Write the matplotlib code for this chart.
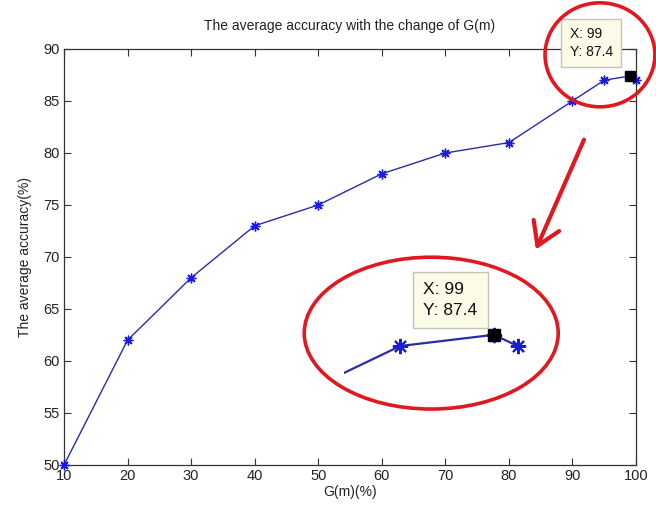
import matplotlib
matplotlib.use("Agg")
import matplotlib.pyplot as plt
from matplotlib.patches import Ellipse

# 데이터
g_m = [10, 20, 30, 40, 50, 60, 70, 80, 90, 95, 99, 100]
accuracy = [50, 62, 68, 73, 75, 78, 80, 81, 85, 87, 87.4, 87]
tip_x = 99
tip_y = 87.4
x_ticks = [10, 20, 30, 40, 50, 60, 70, 80, 90, 100]
y_ticks = [50, 55, 60, 65, 70, 75, 80, 85, 90]

plt.rcParams["font.family"] = ["Liberation Sans", "DejaVu Sans"]

line_color = "#2b2ba6"
star_color = "#1a1ae0"
red = "#e01820"
tip_face = "#fbfbe8"
tip_edge = "#c4c4b0"
# MATLAB 스타일 별표(*) 마커
asterisk = (8, 2, 0)

fig = plt.figure(figsize=(6.56, 5.13), dpi=100)
ax = fig.add_axes([64 / 656, 1 - 465 / 513, 572 / 656, 416 / 513])

ax.plot(g_m, accuracy, "-", color=line_color, lw=1.0, zorder=3)
ax.plot(g_m, accuracy, linestyle="none", marker=asterisk, markersize=7, mew=1.0,
        markeredgecolor=star_color, clip_on=False, zorder=3)
ax.plot([tip_x], [tip_y], "s", color="black", markersize=7, zorder=4, clip_on=False)

ax.set_xlim(10, 100)
ax.set_ylim(50, 90)
ax.set_xticks(x_ticks)
ax.set_yticks(y_ticks)
ax.tick_params(direction="in", top=True, right=True, length=5, labelsize=10.5,
               color="#333333", labelcolor="#222222")
ax.tick_params(axis="x", pad=3)
ax.tick_params(axis="y", pad=3)
for s in ax.spines.values():
    s.set_color("#333333")
    s.set_linewidth(0.9)

ax.set_title("The average accuracy with the change of G(m)", fontsize=10, color="#222222", pad=14)
ax.set_xlabel("G(m)(%)", fontsize=10, color="#222222", labelpad=1)
ax.set_ylabel("The average accuracy(%)", fontsize=10, color="#222222", labelpad=8)

# 데이터 팁 (메인)
ax.annotate("X: 99\nY: 87.4", xy=(tip_x, tip_y), xytext=(-17, 17), textcoords="offset pixels",
            ha="right", va="bottom", multialignment="left", fontsize=10, color="#111111",
            linespacing=1.35,
            bbox=dict(boxstyle="square,pad=0.6", fc=tip_face, ec=tip_edge, lw=1.0),
            annotation_clip=False, zorder=5)

# 빨간 타원 (메인)
ax.add_patch(Ellipse((0.937, 0.986), 0.192, 0.25, transform=ax.transAxes, fill=False,
                     ec=red, lw=2.6, clip_on=False, zorder=6))
# 빨간 화살표
ax.annotate("", xy=(0.823, 0.512), xytext=(0.911, 0.788), xycoords="axes fraction",
            textcoords="axes fraction",
            arrowprops=dict(arrowstyle="->,head_length=0.8,head_width=0.5", color=red,
                            lw=3, mutation_scale=20))
# 빨간 타원 (확대)
ax.add_patch(Ellipse((0.642, 0.317), 0.444, 0.365, transform=ax.transAxes, fill=False,
                     ec=red, lw=2.6, zorder=6))

# 확대된 부분
ins = fig.add_axes([344 / 656, 1 - 392 / 513, 197 / 656, 92 / 513])
ins.plot(g_m, accuracy, "-", color=line_color, lw=1.6)
ins.plot(g_m, accuracy, linestyle="none", marker=asterisk, markersize=11, mew=1.5,
         markeredgecolor=star_color)
ins.plot([tip_x], [tip_y], "s", color="black", markersize=9, zorder=4)
ins.set_xlim(92.6, 101)
ins.set_ylim(85.36, 88.64)
ins.axis("off")
ins.patch.set_alpha(0)
ins.annotate("X: 99\nY: 87.4", xy=(tip_x, tip_y), xytext=(-17, 17), textcoords="offset pixels",
             ha="right", va="bottom", multialignment="left", fontsize=12.5, color="#111111",
             linespacing=1.45,
             bbox=dict(boxstyle="square,pad=0.6", fc=tip_face, ec=tip_edge, lw=1.0),
             annotation_clip=False, zorder=5)

fig.savefig("out.png", dpi=100)
